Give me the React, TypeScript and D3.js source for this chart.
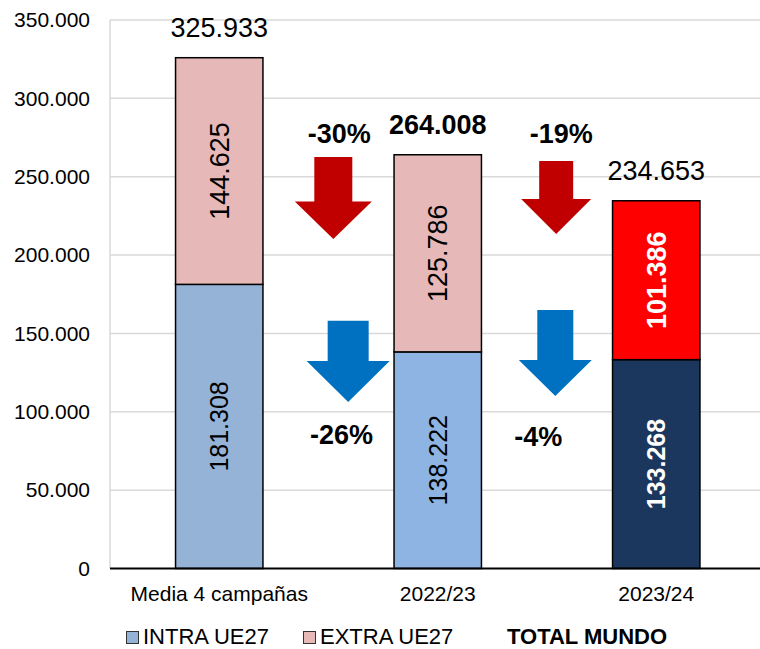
import React from "react";
import * as d3 from "d3";

const categories = ["Media 4 campañas", "2022/23", "2023/24"];
const intraValues = [181308, 138222, 133268];
const extraValues = [144625, 125786, 101386];
const totalValues = [325933, 264008, 234653];
const intraColors = ["#95b3d7", "#8db4e2", "#1b375e"];
const extraColors = ["#e6b8b7", "#e6b8b7", "#ff0000"];
const yTicks = [0, 50000, 100000, 150000, 200000, 250000, 300000, 350000];
const changeLabels = ["-30%", "-26%", "-19%", "-4%"];
const changeGaps = [0, 0, 1, 1];
const changeColors = ["#c00000", "#0070c0", "#c00000", "#0070c0"];
const arrowTopValues = [262600, 158100, 260000, 165000];
const arrowTipValues = [210300, 106200, 213500, 110000];
const arrowPos = [0.522, 0.59, 0.542, 0.538];
const labelPos = [0.549, 0.56, 0.565, 0.46];
const labelValues = [271500, 79400, 271500, 78200];
const arrowShaft = [38, 41, 34, 36];
const arrowHead = [77, 83, 70, 73];
const arrowHeadH = [37.5, 41, 35, 36];
const legendItems = ["INTRA UE27", "EXTRA UE27", "TOTAL MUNDO"];

const FONT = "'Liberation Sans', Arial, sans-serif";

export default function App() {
  const W = 760, H = 649;
  const left = 110, right = 765.5, top = 20, bottom = 568.5;
  const y = d3.scaleLinear().domain([0, 350000]).range([bottom, top]);
  const x = d3.scaleBand<string>().domain(categories).range([left, right]).paddingInner(0.6).paddingOuter(0.3);
  const bw = x.bandwidth();
  const cx = (i: number) => (x(categories[i]) as number) + bw / 2;
  const fmt = (v: number) => d3.format(",")(v).replace(/,/g, ".");

  return (
    <svg width={W} height={H} style={{ position: "absolute", left: 0, top: 0, background: "#fff" }} fontFamily={FONT}>
      {yTicks.filter(t => t > 0).map(t => (
        <line key={"g" + t} x1={left} x2={W} y1={y(t)} y2={y(t)} stroke="#d9d9d9" strokeWidth={1.5} />
      ))}
      <line x1={left} x2={left} y1={top} y2={bottom} stroke="#d9d9d9" strokeWidth={1.5} />
      {yTicks.map(t => (
        <text key={"t" + t} x={90} y={y(t)} dy="0.35em" textAnchor="end" fontSize={21} fill="#000">{fmt(t)}</text>
      ))}
      {categories.map((c, i) => {
        const x0 = x(c) as number;
        const yi = y(intraValues[i]);
        const ye = y(intraValues[i] + extraValues[i]);
        const white = i === 2;
        const mi = (bottom + yi) / 2;
        const me = (yi + ye) / 2;
        return (
          <g key={c}>
            <rect x={x0} y={yi} width={bw} height={bottom - yi} fill={intraColors[i]} stroke="#000" strokeWidth={1.5} />
            <rect x={x0} y={ye} width={bw} height={yi - ye} fill={extraColors[i]} stroke="#000" strokeWidth={1.5} />
            <text transform={`translate(${cx(i)},${mi}) rotate(-90)`} dy="0.35em" textAnchor="middle" fontSize={25}
              fill={white ? "#fff" : "#000"} fontWeight={white ? "bold" : "normal"}>{fmt(intraValues[i])}</text>
            <text transform={`translate(${cx(i)},${me}) rotate(-90)`} dy="0.35em" textAnchor="middle" fontSize={27}
              fill={white ? "#fff" : "#000"} fontWeight={white ? "bold" : "normal"}>{fmt(extraValues[i])}</text>
            <text x={cx(i)} y={Math.max(y(totalValues[i]) - 21, 33)} textAnchor="middle" fontSize={27}
              fontWeight={i === 1 ? "bold" : "normal"} fill="#000">{fmt(totalValues[i])}</text>
            <text x={cx(i)} y={601} textAnchor="middle" fontSize={21} fill="#000">{c}</text>
          </g>
        );
      })}
      <line x1={left} x2={W} y1={bottom} y2={bottom} stroke="#000" strokeWidth={2} />
      {changeLabels.map((lab, k) => {
        const g = changeGaps[k];
        const ax = cx(g) + (cx(g + 1) - cx(g)) * arrowPos[k];
        const lx = cx(g) + (cx(g + 1) - cx(g)) * labelPos[k];
        const yt = y(arrowTopValues[k]);
        const yb = y(arrowTipValues[k]);
        const hs = arrowShaft[k] / 2, hh = arrowHead[k] / 2, yh = yb - arrowHeadH[k];
        const pts = [
          [ax - hs, yt], [ax + hs, yt], [ax + hs, yh], [ax + hh, yh], [ax, yb], [ax - hh, yh], [ax - hs, yh],
        ];
        return (
          <g key={lab}>
            <polygon points={pts.map(p => p.join(",")).join(" ")} fill={changeColors[k]} />
            <text x={lx} y={y(labelValues[k])} textAnchor="middle" fontSize={27} fontWeight="bold" fill="#000">{lab}</text>
          </g>
        );
      })}
      <g>
        <rect x={126.5} y={631.5} width={12} height={12} fill={intraColors[0]} stroke="#333" strokeWidth={1} />
        <text x={143} y={644} fontSize={22} fill="#000">{legendItems[0]}</text>
        <rect x={303.5} y={631.5} width={12} height={12} fill={extraColors[0]} stroke="#333" strokeWidth={1} />
        <text x={320} y={644} fontSize={22} fill="#000">{legendItems[1]}</text>
        <text x={507} y={644} fontSize={22} fontWeight="bold" fill="#000">{legendItems[2]}</text>
      </g>
    </svg>
  );
}
